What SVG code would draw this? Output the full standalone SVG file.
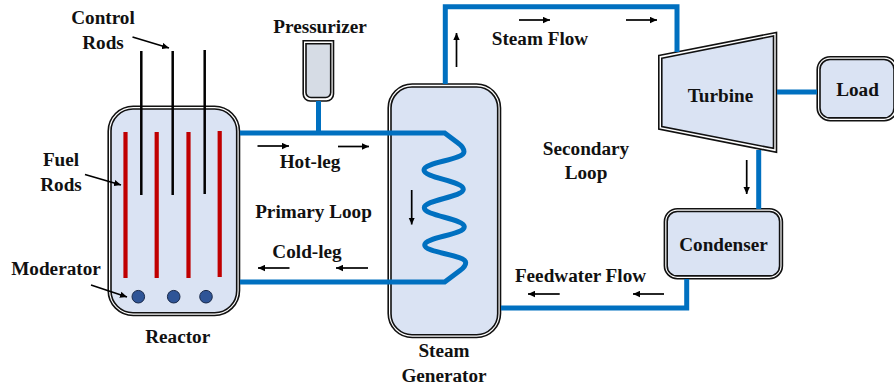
<svg xmlns="http://www.w3.org/2000/svg" width="894" height="388" viewBox="0 0 894 388">
<style>
text{font-family:"Liberation Serif","Times New Roman",serif;font-weight:bold;font-size:19.200px;fill:#111;text-anchor:middle}
.o{fill:#fff;stroke:#111;stroke-width:1.600}
.i{fill:#DAE3F3;stroke:#111;stroke-width:1.600}
.pipe{fill:none;stroke:#0070C0;stroke-width:5}
.arr{fill:none;stroke:#000;stroke-width:1.700;marker-end:url(#ah)}
.fuel{stroke:#C00000;stroke-width:4.200}
.ctrl{stroke:#000;stroke-width:2.500}
.mod{fill:#2F5597;stroke:#1a2a4a;stroke-width:1}
</style>
<defs><marker id="ah" markerUnits="userSpaceOnUse" markerWidth="8" markerHeight="7" refX="7" refY="3.500" orient="auto"><path d="M0 0.300L7 3.500L0 6.700z" fill="#000"/></marker></defs>
<rect width="894" height="388" fill="#fff"/>
<g id="reactor">
<rect class="o" x="108.200" y="106.200" width="131.300" height="209.300" rx="25"/>
<rect class="i" x="111" y="109" width="125.700" height="203.700" rx="22"/>
<path class="fuel" d="M125.500 132V278M156.700 132V278M188.500 132V278M219.700 131V277"/>
<path class="ctrl" d="M141.300 51V195M172.700 51V195M204.700 50V194"/>
<circle class="mod" cx="138.300" cy="296.700" r="6.300"/><circle class="mod" cx="173.700" cy="296.700" r="6.300"/><circle class="mod" cx="206" cy="296.700" r="6.300"/>
</g>
<g id="pressurizer">
<path class="o" d="M303.200 40.700H333.500V94a7 7 0 0 1-7 7H310.200a7 7 0 0 1-7-7z"/>
<path d="M306 43.700H330.700V92.500a5 5 0 0 1-5 5H311a5 5 0 0 1-5-5z" fill="#D6DCE5" stroke="#111" stroke-width="1.600"/>
</g>
<g id="steam-generator">
<rect class="o" x="388.200" y="84" width="112.300" height="253.500" rx="24"/>
<rect class="i" x="391" y="87" width="106.700" height="247.700" rx="21"/>
</g>
<g id="turbine">
<path class="o" d="M658.800 55.500L776.500 32.400V152.300L658.800 129z"/>
<path class="i" d="M661.800 58.200L773.500 36V148.400L661.800 126.600z"/>
</g>
<g id="load">
<rect class="o" x="817.200" y="56.700" width="80" height="64" rx="13"/>
<rect class="i" x="820" y="59.500" width="74" height="58.400" rx="10"/>
</g>
<g id="condenser">
<rect class="o" x="664.400" y="208.700" width="118" height="70" rx="13"/>
<rect class="i" x="667.200" y="211.500" width="112.400" height="64.400" rx="10"/>
</g>
<g id="connectors">
<path class="pipe" d="M240 133H444.700L458 143C462 146 464 148.500 464 151.700C464 160 424 162 424 170C424 178 463.300 181 463.300 189.300C463.300 197 424.300 200 424.300 207.700C424.300 216 464.300 218.500 464.300 226.700C464.300 235 424.700 237 424.700 245C424.700 253 465.700 254.500 465.700 262.700C465.700 266 463 268.300 460 270.500L444.700 282H240"/>
<path class="pipe" d="M318.500 101V133"/>
<path class="pipe" d="M445.300 84V6.700H677V52"/>
<path class="pipe" d="M777 92H817"/>
<path class="pipe" d="M758.700 150V209"/>
<path class="pipe" d="M686.700 279V308H501"/>
<path class="arr" d="M132.500 37L169 48"/>
<path class="arr" d="M85 174.500L121 185"/>
<path class="arr" d="M91 285L127 297"/>
<path class="arr" d="M257.500 146H289"/>
<path class="arr" d="M338 146.500H369"/>
<path class="arr" d="M289.500 268H258"/>
<path class="arr" d="M368 268H336"/>
<path class="arr" d="M456.500 67V33"/>
<path class="arr" d="M519 20H550"/>
<path class="arr" d="M626 20H657"/>
<path class="arr" d="M411.700 190V224.500"/>
<path class="arr" d="M746.700 160V194"/>
<path class="arr" d="M559.700 294H528"/>
<path class="arr" d="M664 294H633"/>
</g>
<text x="103" y="24">Control</text>
<text x="103" y="49">Rods</text>
<text x="61" y="166">Fuel</text>
<text x="61" y="190.700">Rods</text>
<text x="56" y="275">Moderator</text>
<text x="177.700" y="343">Reactor</text>
<text x="320" y="32.700">Pressurizer</text>
<text x="310" y="167.500">Hot-leg</text>
<text x="313.500" y="218">Primary Loop</text>
<text x="307" y="258">Cold-leg</text>
<text x="540" y="44.500">Steam Flow</text>
<text x="586" y="154.500">Secondary</text>
<text x="586" y="179">Loop</text>
<text x="720.500" y="101.500">Turbine</text>
<text x="857.500" y="95.500">Load</text>
<text x="723.500" y="251">Condenser</text>
<text x="580.500" y="281.500">Feedwater Flow</text>
<text x="444" y="356.500">Steam</text>
<text x="444" y="381.500">Generator</text>
</svg>
